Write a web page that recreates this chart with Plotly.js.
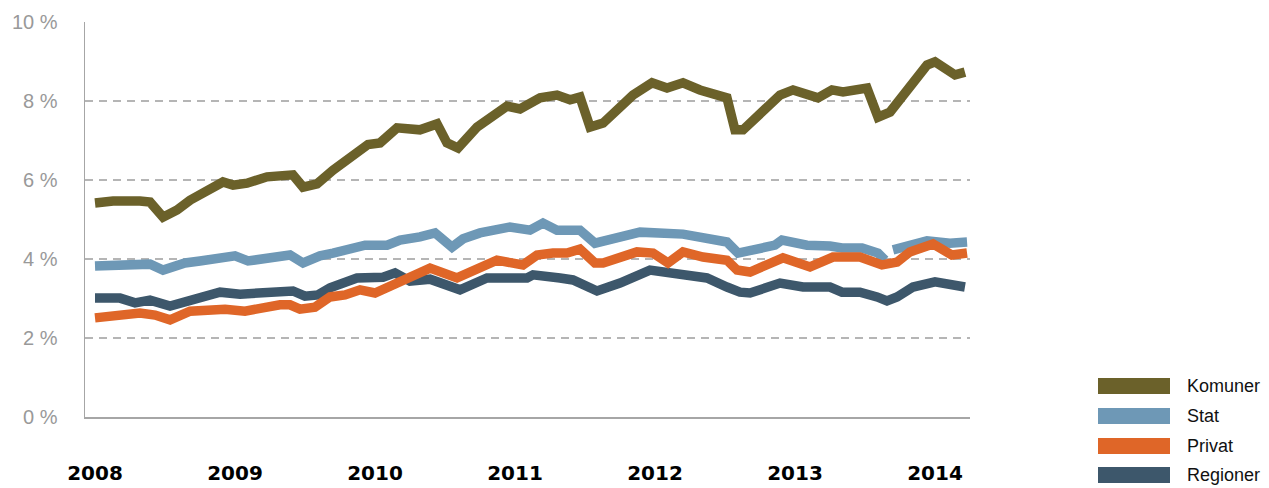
<!DOCTYPE html>
<html>
<head>
<meta charset="utf-8">
<script src="https://cdn.plot.ly/plotly-3.0.1.min.js"></script>
<style>html,body{margin:0;padding:0;background:#fff}#chart{width:1269px;height:488px}</style>
</head>
<body>
<div id="chart"></div>
<script>
// ---- data (x in decimal years, values in %) ----
var seriesNames = ['Komuner', 'Stat', 'Privat', 'Regioner'];
var seriesColors = ['#6b612a', '#6e98b6', '#df6628', '#3d576b'];

var komunerX = [2008.000,2008.129,2008.321,2008.393,2008.486,2008.586,2008.679,2008.800,2008.914,2008.986,2009.086,2009.229,2009.414,2009.486,2009.586,2009.700,2009.950,2010.036,2010.157,2010.321,2010.443,2010.514,2010.593,2010.729,2010.871,2010.943,2011.036,2011.179,2011.300,2011.393,2011.464,2011.536,2011.629,2011.843,2011.979,2012.086,2012.200,2012.321,2012.514,2012.571,2012.629,2012.893,2012.986,2013.129,2013.164,2013.264,2013.343,2013.514,2013.593,2013.679,2013.943,2014.000,2014.143,2014.214];
var komunerY = [5.42,5.47,5.47,5.44,5.06,5.24,5.49,5.75,5.95,5.87,5.92,6.08,6.13,5.82,5.90,6.25,6.90,6.94,7.32,7.27,7.42,6.94,6.81,7.34,7.70,7.87,7.80,8.08,8.15,8.03,8.10,7.34,7.44,8.15,8.46,8.33,8.46,8.28,8.08,7.27,7.27,8.15,8.28,8.08,8.08,8.28,8.23,8.33,7.59,7.72,8.91,8.99,8.66,8.73];

var statX = [2008.000,2008.179,2008.393,2008.486,2008.643,2008.750,2008.914,2009.000,2009.093,2009.229,2009.393,2009.486,2009.607,2009.700,2009.929,2010.086,2010.179,2010.321,2010.429,2010.550,2010.629,2010.750,2010.871,2010.964,2011.107,2011.200,2011.300,2011.464,2011.571,2011.700,2011.893,2012.200,2012.514,2012.593,2012.750,2012.857,2012.907,2013.086,2013.250,2013.336,2013.479,2013.593,2013.643,2013.671,2013.700,2013.800,2013.943,2014.107,2014.229];
var statY = [3.82,3.82,3.87,3.72,3.90,3.95,4.05,4.08,3.95,4.00,4.10,3.90,4.08,4.15,4.35,4.35,4.48,4.56,4.66,4.30,4.51,4.66,4.78,4.81,4.73,4.91,4.73,4.73,4.40,4.53,4.68,4.63,4.43,4.15,4.30,4.35,4.48,4.35,4.33,4.28,4.28,4.15,3.97,null,4.23,4.30,4.46,4.40,4.43];

var privatX = [2008.000,2008.179,2008.321,2008.429,2008.536,2008.679,2008.750,2008.929,2009.071,2009.214,2009.321,2009.393,2009.464,2009.571,2009.679,2009.786,2009.893,2010.000,2010.393,2010.586,2010.871,2011.057,2011.157,2011.271,2011.371,2011.464,2011.571,2011.629,2011.871,2011.986,2012.093,2012.200,2012.343,2012.514,2012.586,2012.679,2012.914,2013.107,2013.271,2013.464,2013.621,2013.729,2013.821,2013.986,2014.121,2014.229];
var privatY = [2.51,2.56,2.63,2.58,2.46,2.68,2.71,2.73,2.68,2.78,2.84,2.84,2.73,2.78,3.04,3.09,3.22,3.14,3.77,3.52,3.97,3.85,4.10,4.15,4.15,4.25,3.90,3.90,4.18,4.15,3.90,4.18,4.05,3.97,3.72,3.67,4.03,3.80,4.05,4.05,3.85,3.92,4.18,4.38,4.10,4.15];

var regionerX = [2008.000,2008.179,2008.286,2008.393,2008.536,2008.679,2008.750,2008.893,2009.036,2009.179,2009.414,2009.500,2009.593,2009.679,2009.871,2010.057,2010.143,2010.250,2010.393,2010.607,2010.800,2011.086,2011.129,2011.321,2011.414,2011.586,2011.750,2011.964,2012.107,2012.200,2012.371,2012.514,2012.607,2012.679,2012.800,2012.893,2013.057,2013.250,2013.336,2013.464,2013.586,2013.657,2013.729,2013.843,2014.000,2014.214];
var regionerY = [3.01,3.01,2.89,2.96,2.81,2.96,3.04,3.16,3.11,3.16,3.19,3.06,3.09,3.27,3.52,3.54,3.65,3.44,3.49,3.22,3.52,3.52,3.60,3.52,3.47,3.19,3.39,3.72,3.65,3.65,3.52,3.29,3.16,3.14,3.29,3.39,3.29,3.29,3.16,3.16,3.04,2.94,3.04,3.29,3.42,3.29];

var yearTicks = [2008, 2009, 2010, 2011, 2012, 2013, 2014];
var yearLabels = ['2008', '2009', '2010', '2011', '2012', '2013', '2014'];
var pctTicks = [0, 2, 4, 6, 8, 10];
var pctLabels = ['0 %', '2 %', '4 %', '6 %', '8 %', '10 %'];

// ---- traces (drawing order: Komuner, Stat, Regioner, Privat on top) ----
var seriesX = [komunerX, statX, privatX, regionerX];
var seriesY = [komunerY, statY, privatY, regionerY];
var drawOrder = [0, 1, 3, 2];
var traces = drawOrder.map(function (i) {
  return {
    type: 'scatter', mode: 'lines', name: seriesNames[i],
    x: seriesX[i], y: seriesY[i],
    line: {color: seriesColors[i], width: 9.5},
    connectgaps: false, showlegend: false, hoverinfo: 'skip'
  };
});

// ---- custom legend (wide swatches like the reference) ----
var plotL = 85, plotR = 970, plotT = 22, plotB = 417;
function px2paperX(px) { return (px - plotL) / (plotR - plotL); }
function px2paperY(py) { return (plotB - py) / (plotB - plotT); }
var legendRows = [386, 416, 446, 475];
var shapes = [], annotations = [];
seriesNames.forEach(function (name, i) {
  var cy = legendRows[i];
  shapes.push({type: 'rect', xref: 'paper', yref: 'paper',
    x0: px2paperX(1098), x1: px2paperX(1170),
    y0: px2paperY(cy + 8), y1: px2paperY(cy - 8),
    fillcolor: seriesColors[i], line: {width: 0}});
  annotations.push({xref: 'paper', yref: 'paper', x: px2paperX(1185), y: px2paperY(cy),
    xanchor: 'left', yanchor: 'middle', text: name, showarrow: false,
    font: {family: 'Liberation Sans, Arial, sans-serif', size: 18, color: '#111'}});
});

var layout = {
  width: 1269, height: 488,
  margin: {l: plotL, r: 1269 - plotR, t: plotT, b: 488 - plotB},
  paper_bgcolor: '#fff', plot_bgcolor: '#fff',
  showlegend: false,
  xaxis: {
    range: [2008 - 10 / 140, 2008 + 875 / 140],
    tickvals: yearTicks, ticktext: yearLabels,
    showgrid: false, zeroline: false,
    showline: true, linecolor: '#a6a6a6', linewidth: 1.5,
    ticks: '', ticklabelstandoff: 37,
    tickfont: {family: 'DejaVu Sans, sans-serif', size: 20, color: '#000', weight: 'bold'}
  },
  yaxis: {
    range: [0, 10],
    tickvals: pctTicks, ticktext: pctLabels,
    showgrid: true, gridcolor: '#b5b5b5', gridwidth: 1.3, griddash: '8px,6px',
    zeroline: false,
    showline: true, linecolor: '#a6a6a6', linewidth: 1.5,
    ticks: '', ticklabelstandoff: 22,
    tickfont: {family: 'Liberation Sans, Arial, sans-serif', size: 20, color: '#999'}
  },
  shapes: shapes,
  annotations: annotations
};

Plotly.newPlot('chart', traces, layout, {displayModeBar: false, staticPlot: true});
</script>
</body>
</html>
